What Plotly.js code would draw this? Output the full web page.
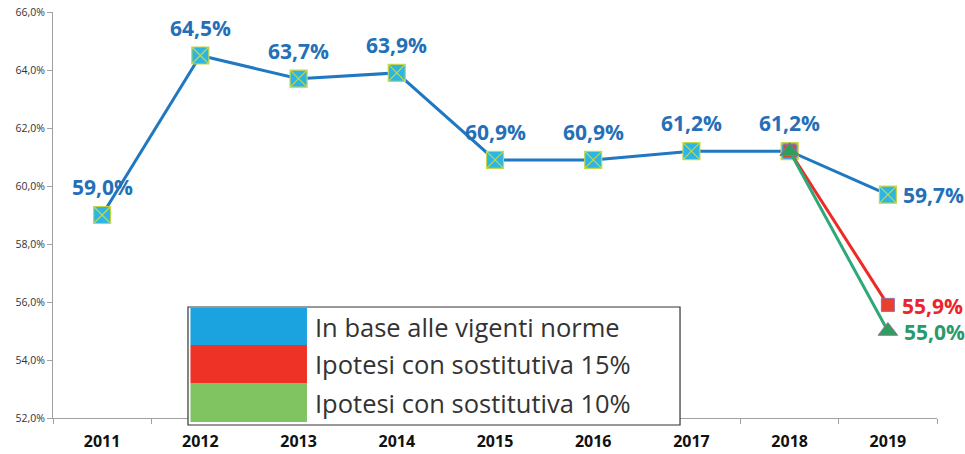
<!DOCTYPE html>
<html>
<head>
<meta charset="utf-8">
<script src="https://cdn.plot.ly/plotly-3.0.1.min.js"></script>
<style>html,body{margin:0;padding:0;background:#fff;}#chart{width:965px;height:454px;}</style>
</head>
<body>
<div id="chart"></div>
<script>
const years = ['2011','2012','2013','2014','2015','2016','2017','2018','2019'];
const baseValues = [59.0, 64.5, 63.7, 63.9, 60.9, 60.9, 61.2, 61.2, 59.7];
const alt15Years = ['2018','2019'];
const alt15Values = [61.2, 55.9];
const alt10Years = ['2018','2019'];
const alt10Values = [61.2, 55.0];
const seriesNames = ['In base alle vigenti norme', 'Ipotesi con sostitutiva 15%', 'Ipotesi con sostitutiva 10%'];
const yTicks = [52, 54, 56, 58, 60, 62, 64, 66];

const fmt = v => v.toFixed(1).replace('.', ',') + '%';
const idx = y => years.indexOf(y);

const blueLine = '#1f78c1', blueText = '#2470b8';
const redLine = '#ee2a24', redText = '#e8262b';
const greenLine = '#2ea877', greenText = '#2a9a6a';

const traces = [
  {x: years, y: baseValues, name: seriesNames[0], type: 'scatter', mode: 'lines+markers',
   line: {color: blueLine, width: 3},
   marker: {symbol: 'square-x', size: 17, color: '#2bb6e4', line: {color: '#c2d64e', width: 1.2}}},
  {x: alt15Years, y: alt15Values, name: seriesNames[1], type: 'scatter', mode: 'lines+markers',
   line: {color: redLine, width: 3},
   marker: {symbol: 'square', size: 13, color: '#e8402f', line: {color: '#9a6c9e', width: 1}}},
  {x: alt10Years, y: alt10Values, name: seriesNames[2], type: 'scatter', mode: 'lines+markers',
   line: {color: greenLine, width: 3},
   marker: {symbol: 'triangle-up', size: 17, color: '#2e9e5e', line: {color: '#9a6c9e', width: 1}}}
];

const labelFont = (c) => ({family: 'Open Sans, sans-serif', size: 21, color: c, weight: 'bold'});
const annotations = [];
baseValues.forEach((v, i) => {
  const last = i === baseValues.length - 1;
  annotations.push({x: i, y: v, xref: 'x', yref: 'y', text: '<b>' + fmt(v) + '</b>', showarrow: false,
    font: labelFont(blueText),
    xanchor: last ? 'left' : 'center', yanchor: 'middle',
    xshift: last ? 13 : 0, yshift: last ? 0 : 28});
});
annotations.push({x: idx(alt15Years[1]), y: alt15Values[1], xref: 'x', yref: 'y', text: '<b>' + fmt(alt15Values[1]) + '</b>',
  showarrow: false, font: labelFont(redText), xanchor: 'left', yanchor: 'middle', xshift: 12, yshift: -1});
annotations.push({x: idx(alt10Years[1]), y: alt10Values[1], xref: 'x', yref: 'y', text: '<b>' + fmt(alt10Values[1]) + '</b>',
  showarrow: false, font: labelFont(greenText), xanchor: 'left', yanchor: 'middle', xshift: 14, yshift: -1});

// custom legend box
const swatchColors = ['#1ba3df', '#ee3226', '#80c462'];
const rowEdges = [0.2709, 0.1798, 0.0862, -0.0099];
const shapes = [
  {type: 'rect', xref: 'paper', yref: 'paper', x0: 0.1527, x1: 0.7093, y0: -0.0172, y1: 0.2734,
   fillcolor: '#ffffff', line: {color: '#333333', width: 1.2}, layer: 'above'}
];
seriesNames.forEach((n, i) => {
  shapes.push({type: 'rect', xref: 'paper', yref: 'paper', x0: 0.1555, x1: 0.2873,
    y0: rowEdges[i + 1], y1: rowEdges[i], fillcolor: swatchColors[i], line: {width: 0}, layer: 'above'});
  annotations.push({xref: 'paper', yref: 'paper', x: 0.2941, y: (rowEdges[i] + rowEdges[i + 1]) / 2,
    text: n, showarrow: false, xanchor: 'left', yanchor: 'middle',
    font: {family: 'Open Sans, sans-serif', size: 25.5, color: '#333333'}});
});

const layout = {
  width: 965, height: 454,
  margin: {l: 53, r: 28, t: 12, b: 36},
  paper_bgcolor: '#ffffff', plot_bgcolor: '#ffffff',
  showlegend: false,
  xaxis: {type: 'category', categoryorder: 'array', categoryarray: years, range: [-0.5, 8.5],
    showgrid: false, zeroline: false, showline: true, linecolor: '#a0a0a0', linewidth: 1,
    ticks: 'outside', tickson: 'boundaries', ticklen: 5, tickcolor: '#a0a0a0',
    ticklabelstandoff: 9,
    tickfont: {family: 'Open Sans, sans-serif', size: 16, color: '#111111', weight: 'bold'}},
  yaxis: {range: [52, 66], tickvals: yTicks, ticktext: yTicks.map(fmt),
    showgrid: false, zeroline: false, showline: true, linecolor: '#a0a0a0', linewidth: 1,
    ticks: 'outside', ticklen: 5, tickcolor: '#a0a0a0',
    tickfont: {family: 'Open Sans, sans-serif', size: 10.5, color: '#333333'}},
  annotations: annotations,
  shapes: shapes
};

Plotly.newPlot('chart', traces, layout, {displayModeBar: false, staticPlot: true});
</script>
</body>
</html>
